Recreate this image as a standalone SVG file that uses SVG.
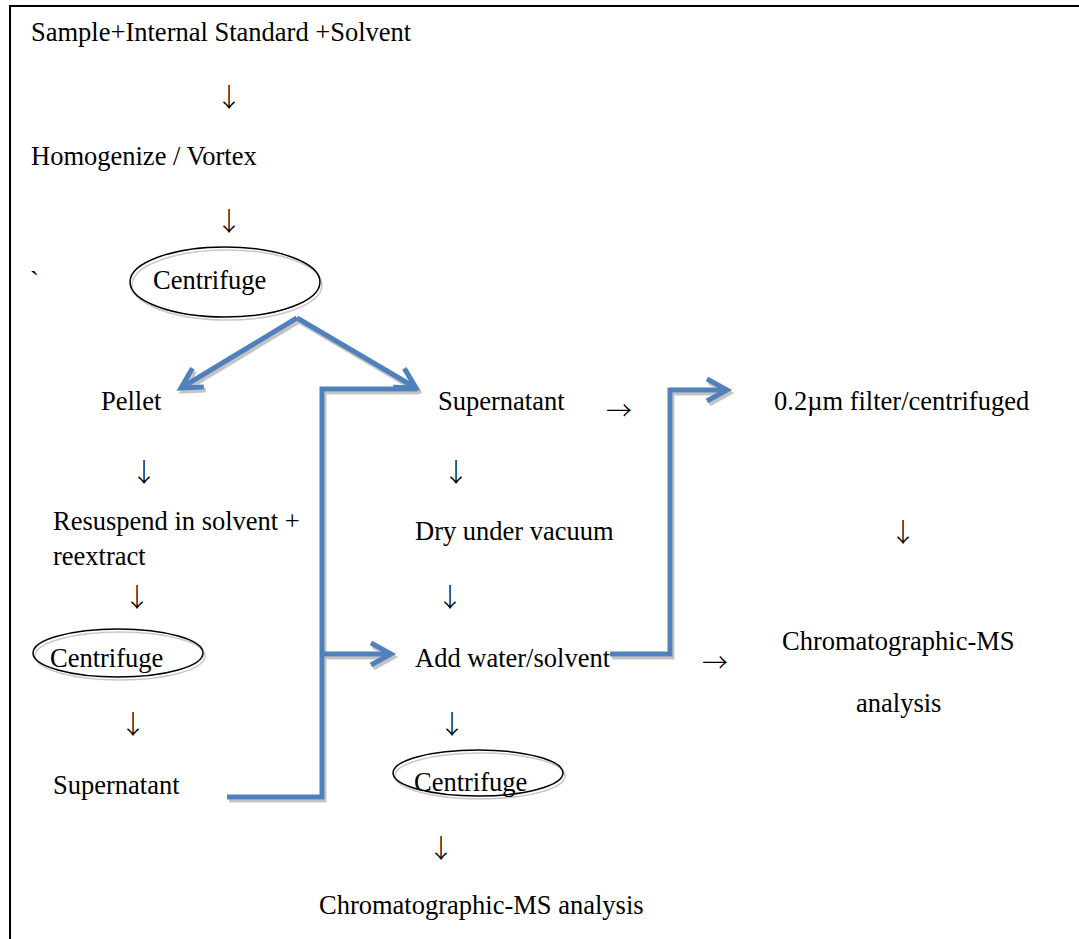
<svg xmlns="http://www.w3.org/2000/svg" width="1079" height="939" viewBox="0 0 1079 939">
<style>
text{font-family:"Liberation Serif","Times New Roman",serif;font-size:26.5px;fill:#000}
.c{text-anchor:middle}
.ar{font-family:"Noto Sans CJK SC","Noto Sans CJK JP",sans-serif;font-size:26px;text-anchor:middle;font-weight:300}
.ell{fill:none;stroke:#000;stroke-width:1.5}
.ells{fill:none;stroke:#c8c8c8;stroke-width:1.5}
.blue{fill:none;stroke:#4F81BD;stroke-width:5;stroke-linejoin:miter}
</style>
<defs>
<filter id="sh" x="-10%" y="-10%" width="130%" height="130%">
<feFlood flood-color="#c4c4c4" result="f"/>
<feComposite in="f" in2="SourceAlpha" operator="in" result="s"/>
<feOffset in="s" dx="2" dy="3" result="o"/>
<feMerge><feMergeNode in="o"/><feMergeNode in="SourceGraphic"/></feMerge>
</filter>
<marker id="ah" markerUnits="userSpaceOnUse" markerWidth="40" markerHeight="40" viewBox="-30 -20 40 40" refX="0" refY="0" orient="auto" overflow="visible">
<path d="M-20,-11 L0,0 L-20,11" fill="none" stroke="#4F81BD" stroke-width="5"/>
</marker>
</defs>
<rect width="1079" height="939" fill="#fff"/>
<g id="frame">
<line x1="9" y1="6" x2="1079" y2="6" stroke="#000" stroke-width="2"/>
<line x1="10" y1="5" x2="10" y2="939" stroke="#000" stroke-width="2"/>
</g>
<g id="connectors" filter="url(#sh)">
<path class="blue" d="M297,318 L181,388" marker-end="url(#ah)"/>
<path class="blue" d="M297,318 L416,388" marker-end="url(#ah)"/>
<path class="blue" d="M227,797 H322 V389 H417"/>
<path class="blue" d="M322,654 H391" marker-end="url(#ah)"/>
<path class="blue" d="M610,654 H670 V390 H727" marker-end="url(#ah)"/>
</g>
<g id="n-sample"><text x="31" y="41">Sample+Internal Standard +Solvent</text></g>
<g id="a1"><text class="ar" x="229" y="107">↓</text></g>
<g id="n-homogenize"><text x="31" y="165">Homogenize / Vortex</text></g>
<g id="a2"><text class="ar" x="229" y="231">↓</text></g>
<g id="tick"><text x="30" y="290">`</text></g>
<g id="n-centrifuge1">
<ellipse class="ells" cx="227" cy="285" rx="95" ry="35"/>
<ellipse class="ell" cx="225" cy="282" rx="95" ry="35"/>
<text x="153" y="289">Centrifuge</text>
</g>
<g id="n-pellet"><text x="101" y="410">Pellet</text></g>
<g id="a3"><text class="ar" x="144" y="482">↓</text></g>
<g id="n-resuspend"><text x="53" y="530">Resuspend in solvent +</text><text x="53" y="565">reextract</text></g>
<g id="a4"><text class="ar" x="137" y="607">↓</text></g>
<g id="n-centrifuge2">
<ellipse class="ells" cx="120" cy="656" rx="85" ry="24"/>
<ellipse class="ell" cx="118" cy="653" rx="85" ry="24"/>
<text x="50" y="667">Centrifuge</text>
</g>
<g id="a5"><text class="ar" x="133" y="734">↓</text></g>
<g id="n-supernatant2"><text x="53" y="794">Supernatant</text></g>
<g id="n-supernatant1"><text x="438" y="410">Supernatant</text></g>
<g id="a6"><text class="ar" x="619" y="420">→</text></g>
<g id="a7"><text class="ar" x="456" y="482">↓</text></g>
<g id="n-dry"><text x="415" y="540">Dry under vacuum</text></g>
<g id="a8"><text class="ar" x="450" y="607">↓</text></g>
<g id="n-add"><text x="415" y="667">Add water/solvent</text></g>
<g id="a9"><text class="ar" x="715" y="672">→</text></g>
<g id="a10"><text class="ar" x="452" y="734">↓</text></g>
<g id="n-centrifuge3">
<ellipse class="ells" cx="480" cy="776" rx="85" ry="23"/>
<ellipse class="ell" cx="478" cy="773" rx="85" ry="23"/>
<text x="414" y="791">Centrifuge</text>
</g>
<g id="a11"><text class="ar" x="441" y="858">↓</text></g>
<g id="n-chrom1"><text x="319" y="914">Chromatographic-MS analysis</text></g>
<g id="n-filter"><text x="774" y="410">0.2µm filter/centrifuged</text></g>
<g id="a12"><text class="ar" x="903" y="542">↓</text></g>
<g id="n-chrom2"><text x="782" y="650">Chromatographic-MS</text><text x="856" y="712">analysis</text></g>
</svg>
